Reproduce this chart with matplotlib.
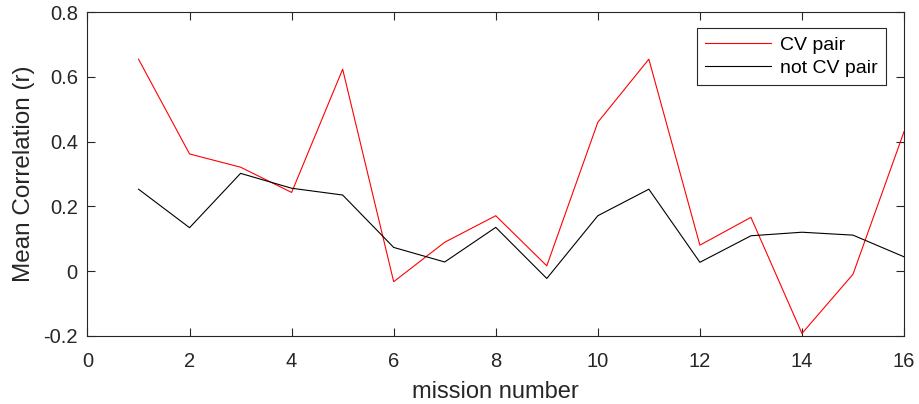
import matplotlib
matplotlib.use("Agg")
import matplotlib.pyplot as plt

# mean correlation per mission
missions = list(range(1, 17))
cv_pair = [0.655, 0.362, 0.321, 0.243, 0.624, -0.033, 0.089, 0.171,
           0.016, 0.460, 0.655, 0.080, 0.166, -0.193, -0.010, 0.431]
not_cv_pair = [0.253, 0.134, 0.302, 0.256, 0.235, 0.073, 0.028, 0.135,
               -0.023, 0.171, 0.253, 0.027, 0.109, 0.120, 0.111, 0.044]

plt.rcParams['font.family'] = ['Liberation Sans', 'DejaVu Sans']

fig = plt.figure(figsize=(9.19, 4.04), dpi=100)
ax = fig.add_axes([0.0952, 0.169, 0.8885, 0.8006])

ax.plot(missions, cv_pair, color='#ff0000', linewidth=0.8, label='CV pair')
ax.plot(missions, not_cv_pair, color='black', linewidth=0.8, label='not CV pair')

ax.set_xlim(0, 16)
ax.set_ylim(-0.2, 0.8)
ax.set_xticks(range(0, 17, 2))
ax.set_yticks([-0.2, 0, 0.2, 0.4, 0.6, 0.8])
ax.set_yticklabels(['-0.2', '0', '0.2', '0.4', '0.6', '0.8'])

# matlab-like box with inward ticks on every side
for s in ax.spines.values():
    s.set_color('#262626')
    s.set_linewidth(0.8)
ax.tick_params(direction='in', length=5.5, width=0.8, color='#262626',
               top=True, right=True, labelsize=14.5, labelcolor='#262626')
ax.tick_params(axis='x', pad=12)
ax.tick_params(axis='y', pad=7)

ax.set_xlabel('mission number', fontsize=17, color='#262626', labelpad=7)
ax.set_ylabel('Mean Correlation (r)', fontsize=17.5, color='#262626', labelpad=6)

leg = ax.legend(loc='upper right', bbox_to_anchor=(0.978, 0.9515), borderaxespad=0,
                fontsize=14, fancybox=False, framealpha=1, edgecolor='#262626',
                handlelength=3.4, handletextpad=0.45, labelspacing=0.3,
                borderpad=0.42)
leg.get_frame().set_linewidth(0.8)

fig.savefig('out.png', dpi=100)
